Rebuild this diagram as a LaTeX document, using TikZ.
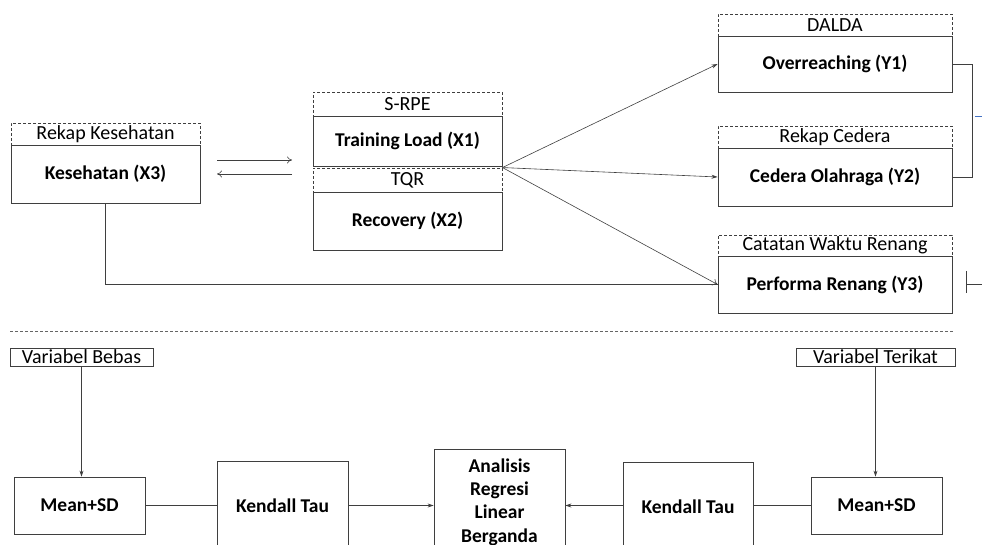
\documentclass[tikz,border=0pt]{standalone}
\usepackage{fontspec}
\setmainfont{Carlito}
\usepackage{tikz}
\usetikzlibrary{arrows.meta,positioning}
\definecolor{lnGray}{HTML}{3F3F3F}
\definecolor{lnBlue}{HTML}{4472C4}

\begin{document}
\begin{tikzpicture}[x=1pt,y=-1pt,>=Stealth,
  src/.style={draw=lnGray,dash pattern=on 3pt off 2pt,line width=0.9pt,inner sep=0pt,minimum width=189pt,font=\fontsize{20}{21}\selectfont},
  var/.style={draw=lnGray,line width=0.9pt,inner sep=0pt,minimum width=189pt,font=\fontsize{19.5}{21}\selectfont\bfseries},
  grp/.style={draw=lnGray,line width=0.9pt,inner sep=0pt,minimum height=18pt,font=\fontsize{20}{21}\selectfont},
  stat/.style={draw=lnGray,line width=0.9pt,inner sep=0pt,minimum width=131pt,align=center,font=\fontsize{19.5}{23.3}\selectfont\bfseries},
  link/.style={lnGray,line width=0.6pt},
  fwd/.style={link,-{Stealth[length=6pt,width=4pt]}},
  opn/.style={link,-{To[length=5pt,width=7pt]}}]
\clip (0,0) rectangle (982,545);
% variabel bebas
\node[src,minimum height=22pt](kesSrc) at (105.5,134){Rekap Kesehatan};
\node[var,minimum height=58pt](kes) at (105.5,174){Kesehatan (X3)};
\node[src,minimum height=24pt](tlSrc) at (407.5,104){S-RPE};
\node[var,minimum height=50pt](tl) at (407.5,141){Training Load (X1)};
\node[src,minimum height=24pt](tqrSrc) at (407.5,180){TQR};
\node[var,minimum height=58pt](rec) at (407.5,221){Recovery (X2)};
% variabel terikat
\node[src,minimum width=234pt,minimum height=22pt](ovSrc) at (835,25){DALDA};
\node[var,minimum width=234pt,minimum height=56pt](ov) at (835,64){Overreaching (Y1)};
\node[src,minimum width=234pt,minimum height=22pt](cedSrc) at (835,137){Rekap Cedera};
\node[var,minimum width=234pt,minimum height=58pt](ced) at (835,177){Cedera Olahraga (Y2)};
\node[src,minimum width=234pt,minimum height=21pt](perSrc) at (835,245.5){Catatan Waktu Renang};
\node[var,minimum width=234pt,minimum height=57pt](per) at (835,284.5){Performa Renang (Y3)};
\coordinate (r1) at (217,160);
\coordinate (r2) at (292,160);
\coordinate (l1) at (292,174);
\coordinate (l2) at (217,174);
\draw[opn] (r1) -- (r2);
\draw[opn] (l1) -- (l2);
\draw[fwd] (tqrSrc.north east) -- (ov.west);
\draw[fwd] (tqrSrc.north east) -- (ced.west);
\draw[opn] (tqrSrc.north east) -- (per.west);
\draw[link] (kes.south) |- (per.west);
\draw[link] (ov.east) -- ++(20,0) |- (ced.east);
\coordinate (b1) at (975,116);
\coordinate (b2) at (982,116);
\draw[lnBlue,line width=0.6pt] (b1) -- (b2);
\coordinate (t1) at (966,271);
\coordinate (t2) at (966,293);
\coordinate (t3) at (982,284);
\draw[link] (t1) -- (t2);
\draw[link] (t3) -- (t1 |- t3);
% pemisah
\coordinate (s1) at (10,331);
\coordinate (s2) at (953,331);
\draw[lnGray!80,line width=0.8pt,dash pattern=on 3pt off 2pt] (s1) -- (s2);
% analisis
\node[grp,minimum width=143pt](bebas) at (81.5,357){Variabel Bebas};
\node[stat,minimum height=57pt](mean1) at (79.5,505.5){Mean+SD};
\node[stat,minimum height=90pt](kt1) at (282.5,506){Kendall Tau};
\node[stat,minimum height=106pt](anal) at (499.5,502){Analisis\\Regresi\\Linear\\Berganda};
\node[stat,minimum width=130pt,minimum height=89pt](kt2) at (688,506.5){Kendall Tau};
\node[stat,minimum height=57pt](mean2) at (876.5,505.5){Mean+SD};
\node[grp,minimum width=159pt](terikat) at (875.5,357){Variabel Terikat};
\draw[fwd] (bebas.south) -- (bebas.south |- mean1.north);
\draw[fwd] (terikat.south) -- (terikat.south |- mean2.north);
\draw[link] (mean1.east) -- (mean1.east -| kt1.west);
\draw[fwd] (kt1.east |- mean1.east) -- (anal.west |- mean1.east);
\draw[link] (mean2.west) -- (mean2.west -| kt2.east);
\draw[fwd] (kt2.west |- mean2.west) -- (anal.east |- mean2.west);
\end{tikzpicture}
\end{document}
